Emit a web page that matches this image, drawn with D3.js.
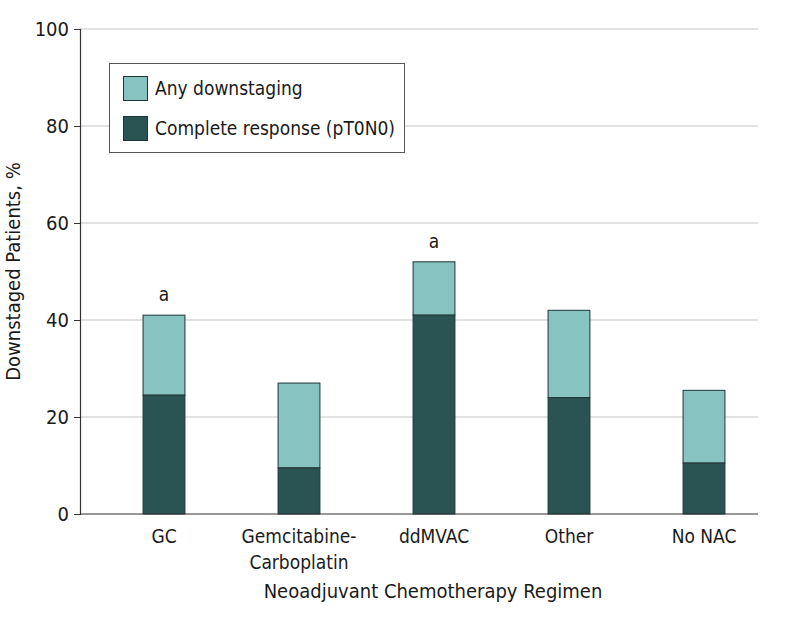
<!DOCTYPE html>
<html><head><meta charset="utf-8">
<script src="https://cdn.jsdelivr.net/npm/d3@7"></script>
<style>body{margin:0;background:#fff}svg{display:block}text{font-family:"DejaVu Sans Condensed","Liberation Sans Narrow","Open Sans",sans-serif;fill:#1a1a1a}</style>
</head><body><svg id="c" width="798" height="620"></svg>
<script>
const categories = ["GC", "Gemcitabine-\nCarboplatin", "ddMVAC", "Other", "No NAC"];
const anyDownstaging = [41, 27, 52, 42, 25.5];
const completeResponse = [24.5, 9.5, 41, 24, 10.5];
const annotations = ["a", "", "a", "", ""];
const yTicks = [0, 20, 40, 60, 80, 100];
const seriesNames = ["Any downstaging", "Complete response (pT0N0)"];
const colors = ["#86c3c1", "#2a5453"];

const svg = d3.select("#c");
const mLeft = 80, mRight = 758, mTop = 29, mBottom = 514;
const y = d3.scaleLinear().domain([0, 100]).range([mBottom, mTop]);
const x = d3.scaleBand().domain(categories).range([96.5, 771.5]).paddingInner(0.69).paddingOuter(0.345);

// gridlines
svg.append("g").selectAll("line").data(yTicks.filter(d => d > 0)).join("line")
  .attr("x1", mLeft).attr("x2", mRight).attr("y1", d => y(d)).attr("y2", d => y(d))
  .attr("stroke", "#d9d9d9").attr("stroke-width", 1.5);

// bars
const g = svg.append("g");
categories.forEach((c, i) => {
  g.append("rect").attr("x", x(c)).attr("width", x.bandwidth())
    .attr("y", y(anyDownstaging[i])).attr("height", y(completeResponse[i]) - y(anyDownstaging[i]))
    .attr("fill", colors[0]).attr("stroke", "#1f3535").attr("stroke-width", 1);
  g.append("rect").attr("x", x(c)).attr("width", x.bandwidth())
    .attr("y", y(completeResponse[i])).attr("height", y(0) - y(completeResponse[i]))
    .attr("fill", colors[1]).attr("stroke", "#1f3535").attr("stroke-width", 1);
  if (annotations[i]) {
    g.append("text").attr("x", x(c) + x.bandwidth() / 2).attr("y", y(anyDownstaging[i]) - 14)
      .attr("text-anchor", "middle").attr("font-size", 19).text(annotations[i]);
  }
});

// y axis
const ya = svg.append("g").attr("transform", `translate(${mLeft},0)`)
  .call(d3.axisLeft(y).tickValues(yTicks).tickSize(6).tickPadding(5));
ya.select(".domain").attr("stroke", "#333").attr("stroke-width", 1.2);
ya.selectAll(".tick line").attr("stroke", "#333");
ya.selectAll("text").attr("font-size", 20).attr("fill", "#1a1a1a").style("font-family", null);

// x axis
const xa = svg.append("g").attr("transform", `translate(0,${mBottom})`)
  .call(d3.axisBottom(x).tickSize(0).tickPadding(0));
xa.select(".domain").remove();
xa.selectAll(".tick text").attr("font-size", 19).attr("fill", "#1a1a1a").style("font-family", null)
  .each(function(d) {
    const t = d3.select(this); t.text(null);
    d.split("\n").forEach((line, k) => t.append("tspan").attr("x", 0).attr("y", 29 + k * 26).attr("dy", 0).text(line));
  });
svg.append("line").attr("x1", mLeft).attr("x2", mRight).attr("y1", mBottom).attr("y2", mBottom)
  .attr("stroke", "#333").attr("stroke-width", 1.2);

// axis titles
svg.append("text").attr("transform", `translate(20,${(mTop + mBottom) / 2}) rotate(-90)`)
  .attr("text-anchor", "middle").attr("font-size", 20).text("Downstaged Patients, %");
svg.append("text").attr("x", 433).attr("y", 598).attr("text-anchor", "middle")
  .attr("font-size", 20).text("Neoadjuvant Chemotherapy Regimen");

// legend
const lg = svg.append("g");
lg.append("rect").attr("x", 109.5).attr("y", 63.5).attr("width", 295).attr("height", 89)
  .attr("fill", "#fff").attr("stroke", "#555").attr("stroke-width", 1);
seriesNames.forEach((s, i) => {
  lg.append("rect").attr("x", 123.5).attr("y", 76.5 + i * 40).attr("width", 24).attr("height", 24)
    .attr("fill", colors[i]).attr("stroke", "#1f3535");
  lg.append("text").attr("x", 155).attr("y", 95 + i * 40).attr("font-size", 19).text(s);
});
</script></body></html>
